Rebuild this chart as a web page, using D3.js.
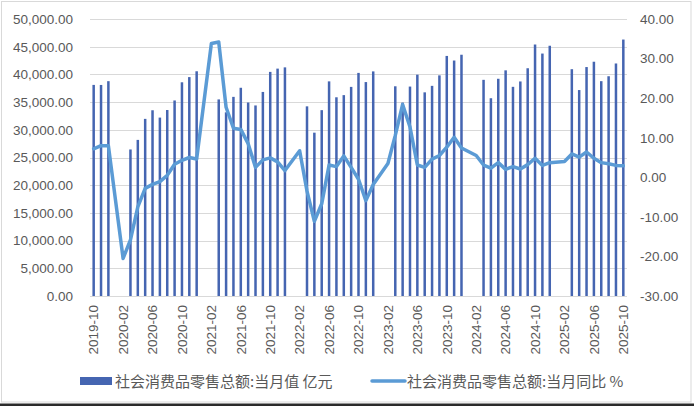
<!DOCTYPE html>
<html>
<head>
<meta charset="utf-8">
<script src="https://cdn.jsdelivr.net/npm/d3@7"></script>
<style>
  html, body { margin: 0; padding: 0; background: #fff; }
  svg { display: block; }
</style>
</head>
<body>
<svg id="chart" width="694" height="407"></svg>
<script>
// ---- Data ----
const startYear = 2019, startMonth = 10, monthCount = 73;
const months = [];
for (let i = 0; i < monthCount; i++) {
  const m0 = startMonth - 1 + i;
  const y = startYear + Math.floor(m0 / 12);
  const m = (m0 % 12) + 1;
  months.push(y + "-" + String(m).padStart(2, "0"));
}
// 社会消费品零售总额:当月值 亿元
const retailValue = [
  38104, 38094, 38777,
  null, null, 26450, 28178, 31973, 33526, 32203, 33571, 35295, 38576, 39514, 40566,
  null, null, 35484, 33153, 35945, 37586, 34925, 34395, 36833, 40454, 41043, 41269,
  null, null, 34233, 29483, 33547, 38742, 35870, 36258, 37745, 40271, 38615, 40542,
  null, null, 37855, 34910, 37803, 39951, 36761, 37933, 39826, 43333, 42505, 43550,
  null, null, 39020, 35699, 39211, 40732, 37757, 38726, 41112, 45396, 43763, 45172,
  null, null, 40940, 37174, 41326, 42287, 38780, 39668, 41971, 46291
];
// 社会消费品零售总额:当月同比 %
const retailYoY = [
  7.2, 8.0, 8.0,
  null, -20.5, -15.8, -7.5, -2.8, -1.8, -1.1, 0.5, 3.3, 4.3, 5.0, 4.6,
  null, 33.8, 34.2, 17.7, 12.4, 12.1, 8.5, 2.5, 4.4, 4.9, 3.9, 1.7,
  null, 6.7, -3.5, -11.1, -6.7, 3.1, 2.7, 5.4, 2.5, -0.5, -5.9, -1.8,
  null, 3.5, 10.6, 18.4, 12.7, 3.1, 2.5, 4.6, 5.5, 7.6, 10.1, 7.4,
  null, 5.5, 3.1, 2.3, 3.7, 2.0, 2.7, 2.1, 3.2, 4.8, 3.0, 3.7,
  null, 4.0, 5.9, 5.1, 6.4, 4.8, 3.7, 3.4, 3.0, 2.9
];
const leftTicks = [0, 5000, 10000, 15000, 20000, 25000, 30000, 35000, 40000, 45000, 50000];
const rightTicks = [-30, -20, -10, 0, 10, 20, 30, 40];
const xLabels = months.filter((d, i) => i % 4 === 0);
const seriesNames = ["社会消费品零售总额:当月值 亿元", "社会消费品零售总额:当月同比 %"];

// ---- Chart ----
const svg = d3.select("#chart");
const W = 694, H = 407;
const plot = { left: 90, right: 627, top: 19, bottom: 296 };
const barColor = "#4565B1", lineColor = "#5B9BD5", textColor = "#595959", gridColor = "#D9D9D9";
const fmt = d3.formatLocale({ decimal: ".", thousands: ",", grouping: [3], currency: ["", ""], minus: "-" });
const fmtLeft = fmt.format(",.2f"), fmtRight = fmt.format(".2f");

// frame
svg.append("rect").attr("x", 1.5).attr("y", 1.5).attr("width", 689.5).attr("height", 400.5)
  .attr("fill", "#fff").attr("stroke", gridColor).attr("stroke-width", 1);
svg.append("rect").attr("x", 0).attr("y", 403.5).attr("width", W).attr("height", 2.5).attr("fill", "#2b2b2b");

const x = d3.scaleBand().domain(months).range([plot.left, plot.right]).paddingInner(0).paddingOuter(0);
const yL = d3.scaleLinear().domain([0, 50000]).range([plot.bottom, plot.top]);
const yR = d3.scaleLinear().domain([-30, 40]).range([plot.bottom, plot.top]);

// gridlines
svg.append("g").selectAll("line").data(leftTicks).join("line")
  .attr("x1", plot.left).attr("x2", plot.right)
  .attr("y1", d => Math.round(yL(d)) + 0.5).attr("y2", d => Math.round(yL(d)) + 0.5)
  .attr("stroke", gridColor).attr("stroke-width", 1);

// left axis
const axL = svg.append("g").attr("transform", `translate(${plot.left},0)`)
  .call(d3.axisLeft(yL).tickValues(leftTicks).tickFormat(fmtLeft).tickSize(0).tickPadding(17));
axL.select(".domain").remove();
axL.selectAll("text").attr("fill", textColor).style("font-family", "'Liberation Sans', Arial, sans-serif").style("font-size", "13.5px");

// right axis
const axR = svg.append("g").attr("transform", `translate(${plot.right},0)`)
  .call(d3.axisRight(yR).tickValues(rightTicks).tickFormat(fmtRight).tickSize(0).tickPadding(13));
axR.select(".domain").remove();
axR.selectAll("text").attr("fill", textColor).style("font-family", "'Liberation Sans', Arial, sans-serif").style("font-size", "13.5px");

// bottom axis labels
const axB = svg.append("g").attr("transform", `translate(0,${plot.bottom})`)
  .call(d3.axisBottom(x).tickValues(xLabels).tickSize(0).tickPadding(0));
axB.select(".domain").remove();
axB.selectAll("text")
  .attr("fill", textColor)
  .style("font-family", "'Liberation Sans', Arial, sans-serif").style("font-size", "13.5px")
  .attr("text-anchor", "end")
  .attr("transform", "rotate(-90)")
  .attr("x", -9).attr("y", 0).attr("dy", "0.35em");

// bars
const barW = 2.5;
const barData = months.map((m, i) => ({ m, v: retailValue[i] })).filter(d => d.v != null);
svg.append("g").selectAll("rect").data(barData).join("rect")
  .attr("x", d => x(d.m) + x.bandwidth() / 2 - barW / 2)
  .attr("width", barW)
  .attr("y", d => yL(d.v))
  .attr("height", d => yL(0) - yL(d.v))
  .attr("fill", barColor);

// line (gaps connected)
const lineData = months.map((m, i) => ({ m, v: retailYoY[i] })).filter(d => d.v != null);
const line = d3.line().x(d => x(d.m) + x.bandwidth() / 2).y(d => yR(d.v));
svg.append("path").datum(lineData).attr("d", line)
  .attr("fill", "none").attr("stroke", lineColor).attr("stroke-width", 3.5)
  .attr("stroke-linejoin", "round").attr("stroke-linecap", "round");

// legend
const lg = svg.append("g");
lg.append("rect").attr("x", 80).attr("y", 377).attr("width", 32).attr("height", 8).attr("fill", barColor);
lg.append("text").attr("x", 115).attr("y", 386.5).text(seriesNames[0])
  .attr("fill", textColor).style("font-family", "'Noto Sans CJK SC', sans-serif").style("font-size", "15px");
lg.append("line").attr("x1", 372).attr("x2", 405).attr("y1", 381).attr("y2", 381)
  .attr("stroke", lineColor).attr("stroke-width", 3.5).attr("stroke-linecap", "round");
lg.append("text").attr("x", 407).attr("y", 386.5).text(seriesNames[1])
  .attr("fill", textColor).style("font-family", "'Noto Sans CJK SC', sans-serif").style("font-size", "15px");
</script>
</body>
</html>
